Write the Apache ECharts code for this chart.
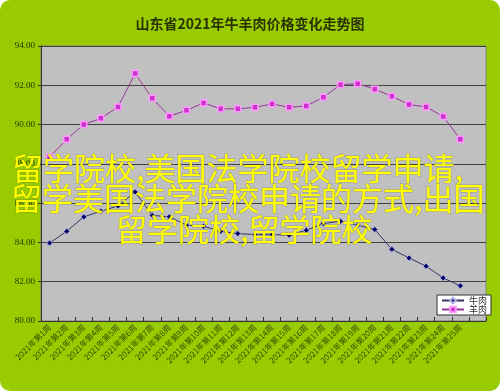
<!DOCTYPE html>
<html>
<head>
<meta charset="utf-8">
<script src="https://cdn.jsdelivr.net/npm/echarts@6/dist/echarts.min.js"></script>
<style>
html,body{margin:0;padding:0;background:#ffffff;}
#chart{width:500px;height:391px;}
</style>
</head>
<body>
<div id="chart"></div>
<script>
var titleText = '山东省2021年牛羊肉价格变化走势图';
var categories = ['2021年第1周','2021年第2周','2021年第3周','2021年第4周','2021年第5周','2021年第6周','2021年第7周','2021年第8周','2021年第9周','2021年第10周','2021年第11周','2021年第12周','2021年第13周','2021年第14周','2021年第15周','2021年第16周','2021年第17周','2021年第18周','2021年第19周','2021年第20周','2021年第21周','2021年第22周','2021年第23周','2021年第24周','2021年第25周',''];
var seriesNames = ['牛肉','羊肉'];
var beef = [83.97,84.57,85.30,85.59,85.86,86.57,85.38,85.30,84.88,84.82,84.57,84.45,84.40,84.40,84.37,84.62,84.96,85.08,84.88,84.66,83.65,83.21,82.79,82.19,81.79];
var lamb = [88.35,89.25,90.00,90.32,90.90,92.60,91.34,90.42,90.73,91.10,90.80,90.80,90.88,91.05,90.88,90.95,91.39,92.03,92.08,91.80,91.44,91.02,90.90,90.41,89.25];
var yMin = 80, yMax = 94, yStep = 2;
var overlayLines = ['留学院校,美国法学院校留学申请,','留学美国法学院校申请的方式,出国','留学院校,留学院校'];

var chart = echarts.init(document.getElementById('chart'), null, {renderer:'canvas'});
var cjk = '"Noto Sans CJK SC", "Noto Sans", sans-serif';
var serif = '"Liberation Serif", "DejaVu Serif", "Noto Sans CJK SC", serif';

var graphics = [
  {type:'rect', z:-10, silent:true, shape:{x:0,y:0,width:500,height:391,r:10}, style:{fill:'#99cc00'}}
];
var lineX = [12, 11, 116];
var lineY = [168, 198, 229];
overlayLines.forEach(function(t, i){
  graphics.push({type:'text', z:100, silent:true, x:lineX[i], y:lineY[i],
    style:{text:t, fill:'#ffff00', font:'31px ' + cjk, textAlign:'left', textVerticalAlign:'middle',
      stroke:'rgba(90,90,0,0.35)', lineWidth:1}});
});

chart.setOption({
  backgroundColor:'transparent',
  animation:false,
  title:{text:titleText, left:'center', top:12,
    textStyle:{fontSize:14, fontWeight:'bold', color:'#2a3300', fontFamily:cjk}},
  graphic:graphics,
  grid:{left:41, right:14, top:46, bottom:70, show:true, backgroundColor:'#c0c0c0', borderColor:'#808080', borderWidth:1},
  legend:{
    orient:'vertical', left:437, top:295, backgroundColor:'#ffffff', borderColor:'#333333', borderWidth:1,
    padding:[1,4,1,4], itemGap:0, itemWidth:22, itemHeight:7,
    textStyle:{fontSize:9, color:'#333333', fontFamily:cjk},
    data:seriesNames
  },
  xAxis:{
    type:'category', data:categories, boundaryGap:true,
    axisLine:{lineStyle:{color:'#333333', width:1}},
    axisTick:{show:true, inside:true, length:4, lineStyle:{color:'#333333'}},
    axisLabel:{rotate:45, interval:0, fontSize:8, color:'#3a4a00', margin:5, fontFamily:cjk},
    splitLine:{show:false}
  },
  yAxis:{
    type:'value', min:yMin, max:yMax, interval:yStep,
    axisLine:{show:true, lineStyle:{color:'#333333', width:1}},
    axisTick:{show:true, length:3, lineStyle:{color:'#333333'}},
    axisLabel:{fontSize:9, color:'#2a3300', margin:6, fontFamily:serif,
      formatter:function(v){return v.toFixed(2);}},
    splitLine:{show:true, lineStyle:{color:'#404040', width:1}}
  },
  series:[
    {name:seriesNames[0], type:'line', data:beef, symbol:'diamond', symbolSize:6,
      lineStyle:{color:'#333366', width:1}, itemStyle:{color:'#000066', borderColor:'#aaaadd', borderWidth:1}},
    {name:seriesNames[1], type:'line', data:lamb, symbol:'rect', symbolSize:6,
      lineStyle:{color:'#993399', width:1}, itemStyle:{color:'#cc33cc', borderColor:'#ff99ff', borderWidth:1.5}}
  ]
});
</script>
</body>
</html>
